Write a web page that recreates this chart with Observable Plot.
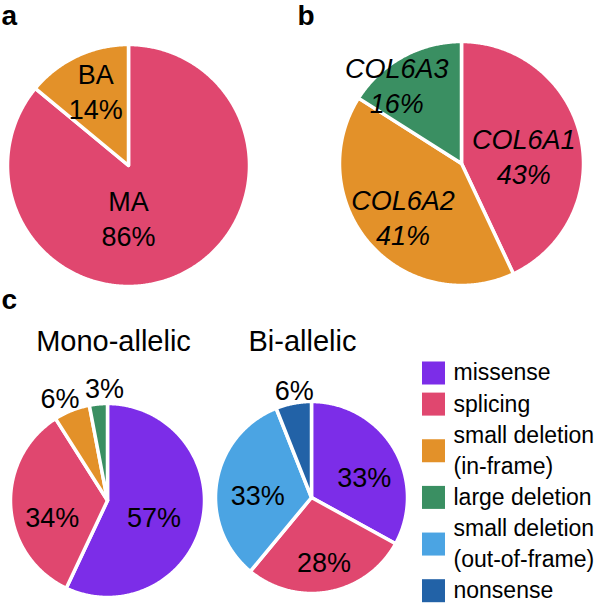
<!DOCTYPE html>
<html><head><meta charset="utf-8">
<script src="https://cdn.jsdelivr.net/npm/d3@7"></script>
<script src="https://cdn.jsdelivr.net/npm/@observablehq/plot@0.6"></script>
<style>body{margin:0;background:#fff;}</style>
</head><body><div id="chart"></div>
<script>
// ---------- data ----------
const alleleCategories = ["MA", "BA"];
const alleleValues = [86, 14];
const geneCategories = ["COL6A1", "COL6A2", "COL6A3"];
const geneValues = [43, 41, 16];
const variantTypes = ["missense", "splicing", "small deletion (in-frame)", "large deletion", "small deletion (out-of-frame)", "nonsense"];
const monoValues = [57, 34, 6, 3, 0, 0];
const biValues = [33, 28, 0, 0, 33, 6];
const panelTitles = ["Mono-allelic", "Bi-allelic"];
const panelLetters = ["a", "b", "c"];

// ---------- styles ----------
const alleleColors = ["#E0476F", "#E39129"];
const geneColors = ["#E0476F", "#E39129", "#3A8F62"];
const variantColors = ["#7C2DE8", "#E0476F", "#E39129", "#3A8F62", "#4BA4E3", "#2262A7"];

const colorDomain = [...alleleCategories.map(d => "a:" + d), ...geneCategories.map(d => "b:" + d), ...variantTypes.map(d => "c:" + d)];
const colorRange = [...alleleColors, ...geneColors, ...variantColors];

// ---------- layout ----------
const pies = [
  {key: "a", cx: 128, cy: 165, r: 121, cats: alleleCategories, vals: alleleValues, italic: false, showName: true,
   offsets: [[0, 0.43], [-0.27, -0.62]]},
  {key: "b", cx: 461, cy: 163, r: 122, cats: geneCategories, vals: geneValues, italic: true, showName: true,
   offsets: [[0.51, -0.07], [-0.48, 0.43], [-0.53, -0.65]]},
  {key: "c", cx: 107, cy: 500, r: 97, cats: variantTypes, vals: monoValues, italic: false, showName: false,
   offsets: [[0.48, 0.16], [-0.57, 0.16], [-0.49, -1.07], [-0.03, -1.17], null, null]},
  {key: "c", cx: 311, cy: 497, r: 96, cats: variantTypes, vals: biValues, italic: false, showName: false,
   offsets: [[0.55, -0.23], [0.13, 0.66], null, null, [-0.56, -0.04], [-0.18, -1.13]]}
];

const slices = [];
const labels = [];
pies.forEach((p, pi) => {
  const total = d3.sum(p.vals);
  let cum = 0;
  p.vals.forEach((v, i) => {
    if (v <= 0) return;
    const a0 = cum / total * 2 * Math.PI;
    const a1 = (cum + v) / total * 2 * Math.PI;
    cum += v;
    const id = `${pi}-${i}`;
    const cat = p.key + ":" + p.cats[i];
    slices.push({id, cat, x: p.cx, y: p.cy});
    const n = Math.max(2, Math.ceil((a1 - a0) / (Math.PI / 360)));
    for (let k = 0; k <= n; k++) {
      const a = a0 + (a1 - a0) * k / n;
      slices.push({id, cat, x: p.cx + p.r * Math.sin(a), y: p.cy - p.r * Math.cos(a)});
    }
    const off = p.offsets[i];
    labels.push({
      x: p.cx + off[0] * p.r,
      y: p.cy + off[1] * p.r,
      text: p.showName ? `${p.cats[i]}\n${v}%` : `${v}%`,
      italicName: p.italic
    });
  });
});

const titles = panelTitles.map((t, i) => ({text: t, x: [113, 302][i], y: 341}));
const letters = panelLetters.map((t, i) => ({text: t, x: [1, 297, 1][i], y: [16, 16, 300][i]}));

// legend: uniform line pitch
const legendTop = 370, pitch = 31.1, box = 23;
let lineIdx = 0;
const legend = variantTypes.map(t => {
  const lines = t.replace(" (", "\n(").split("\n");
  const yc = legendTop + pitch * (lineIdx + (lines.length - 1) / 2);
  lineIdx += lines.length;
  return {cat: "c:" + t, text: lines.join("\n"), y: yc, y1: yc - box / 2 + 3, y2: yc + box / 2 + 3};
});

const chart = Plot.plot({
  width: 602,
  height: 605,
  margin: 0,
  style: {fontFamily: "'Liberation Sans', Arial, Helvetica, sans-serif", background: "#fff", color: "#000"},
  x: {type: "identity", axis: null},
  y: {type: "identity", axis: null},
  color: {domain: colorDomain, range: colorRange},
  marks: [
    Plot.line(slices, {x: "x", y: "y", z: "id", fill: "cat", stroke: "white", strokeWidth: 3.5, strokeLinejoin: "round", curve: "linear-closed"}),
    Plot.text(labels.filter(d => !d.italicName), {x: "x", y: "y", text: "text", fontSize: 27, lineHeight: 1.3, fill: "black"}),
    Plot.text(labels.filter(d => d.italicName), {x: "x", y: "y", text: "text", fontSize: 27, lineHeight: 1.3, fill: "black", fontStyle: "italic"}),
    Plot.text(titles, {x: "x", y: "y", text: "text", fontSize: 29, fill: "black"}),
    Plot.text(letters, {x: "x", y: "y", text: "text", fontSize: 28, fontWeight: "bold", textAnchor: "start", fill: "black"}),
    Plot.rect(legend, {x1: 422, x2: 445, y1: "y1", y2: "y2", fill: "cat"}),
    Plot.text(legend, {x: 453, y: "y", text: "text", fontSize: 23, lineHeight: 1.352, textAnchor: "start", fill: "black"})
  ]
});
document.getElementById("chart").appendChild(chart);
</script>
</body></html>
